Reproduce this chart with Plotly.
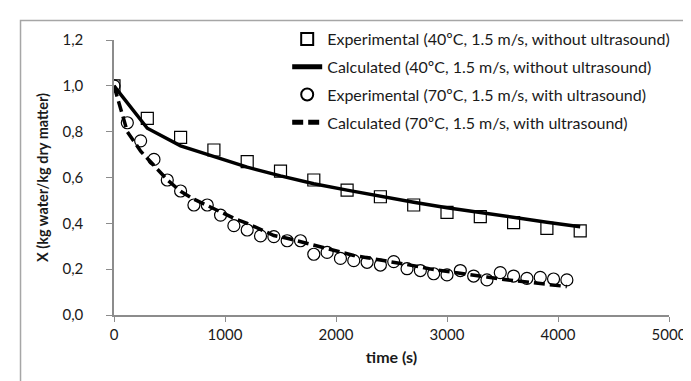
import plotly.graph_objects as go

# Experimental data, 40ºC without ultrasound
t_exp40 = [0, 300, 600, 900, 1200, 1500, 1800, 2100, 2400, 2700, 3000, 3300, 3600, 3900, 4200]
x_exp40 = [1.0, 0.858, 0.775, 0.72, 0.669, 0.628, 0.589, 0.545, 0.516, 0.48, 0.448, 0.429, 0.403, 0.378, 0.367]
# Calculated 40ºC
x_calc40 = [1.0, 0.815, 0.738, 0.69, 0.645, 0.607, 0.573, 0.545, 0.518, 0.492, 0.468, 0.446, 0.426, 0.405, 0.385]

# Experimental data, 70ºC with ultrasound
t_exp70 = [0, 120, 240, 360, 480, 600, 720, 840, 960, 1080, 1200, 1320, 1440, 1560, 1680,
           1800, 1920, 2040, 2160, 2280, 2400, 2520, 2640, 2760, 2880, 3000, 3120, 3240,
           3360, 3480, 3600, 3720, 3840, 3960, 4080]
x_exp70 = [1.0, 0.839, 0.76, 0.679, 0.589, 0.541, 0.48, 0.48, 0.436, 0.39, 0.371, 0.345,
           0.342, 0.324, 0.324, 0.265, 0.273, 0.247, 0.237, 0.23, 0.218, 0.233, 0.202, 0.194,
           0.18, 0.175, 0.194, 0.17, 0.153, 0.185, 0.17, 0.16, 0.164, 0.157, 0.153]
# Calculated 70ºC
x_calc70 = [1.0, 0.80, 0.715, 0.65, 0.59, 0.54, 0.505, 0.478, 0.448, 0.422, 0.40, 0.372,
            0.347, 0.335, 0.32, 0.305, 0.29, 0.275, 0.26, 0.25, 0.24, 0.232, 0.222, 0.21,
            0.198, 0.19, 0.185, 0.176, 0.166, 0.157, 0.151, 0.145, 0.139, 0.133, 0.124]

names = [
    "Experimental (40ºC, 1.5 m/s, without ultrasound)",
    "Calculated (40ºC, 1.5 m/s, without ultrasound)",
    "Experimental (70ºC, 1.5 m/s, with ultrasound)",
    "Calculated (70ºC, 1.5 m/s, with ultrasound)",
]

FONT = "Lato, 'Open Sans', sans-serif"
AX = "#8c8c8c"

fig = go.Figure()
fig.add_trace(go.Scatter(x=t_exp40, y=x_calc40, mode="lines", name=names[1], legendrank=2,
                         legendgroup="b", line=dict(color="black", width=3.5)))
fig.add_trace(go.Scatter(x=t_exp70, y=x_calc70, mode="lines", name=names[3], legendrank=4,
                         legendgroup="d", line=dict(color="black", width=3.5, dash="11px,5px")))
fig.add_trace(go.Scatter(x=t_exp40, y=x_exp40, mode="markers", name=names[0], legendrank=1,
                         legendgroup="a",
                         marker=dict(symbol="square-open", size=12, color="black", line=dict(width=1.2))))
fig.add_trace(go.Scatter(x=t_exp70, y=x_exp70, mode="markers", name=names[2], legendrank=3,
                         legendgroup="c",
                         marker=dict(symbol="circle-open", size=12, color="black", line=dict(width=1.2))))

W, H = 691, 381
L, R, T, B = 106, 21, 32, 74
pw, ph = W - L - R, H - T - B

def px(x):
    return (x - L) / pw

def py(y):
    return (H - B - y) / ph

fig.update_layout(
    width=W, height=H,
    margin=dict(l=L, r=R, t=T, b=B),
    paper_bgcolor="white", plot_bgcolor="white",
    separators=",.",
    font=dict(family=FONT, size=15, color="#1a1a1a"),
    showlegend=True,
    legend=dict(x=px(282), y=py(14), xanchor="left", yanchor="top",
                bgcolor="rgba(0,0,0,0)", font=dict(size=16, color="#1a1a1a"),
                traceorder="grouped", tracegroupgap=4, itemsizing="constant"),
    xaxis=dict(range=[0, 5000], dtick=1000, tickformat="d", showgrid=False, zeroline=False,
               showline=True, linecolor=AX, linewidth=1.5, ticks="outside", ticklen=5,
               tickcolor=AX, tickwidth=1.2,
               title=dict(text="<b>time (s)</b>", font=dict(size=16), standoff=10),
               tickfont=dict(size=15)),
    yaxis=dict(range=[0, 1.2], dtick=0.2, tickformat=".1f", showgrid=False, zeroline=False,
               showline=True, linecolor=AX, linewidth=1.5, ticks="outside", ticklen=6,
               tickcolor=AX, tickwidth=1.2, ticklabelstandoff=20,
               title=dict(text="<b>X (kg water/kg dry matter)</b>", font=dict(size=14.5), standoff=10),
               tickfont=dict(size=15)),
    shapes=[dict(type="rect", xref="paper", yref="paper",
                 x0=px(11), x1=px(720), y0=py(420), y1=py(12.5),
                 line=dict(color="#a6a6a6", width=1.5), layer="below")],
)

fig.write_html("out.html")
